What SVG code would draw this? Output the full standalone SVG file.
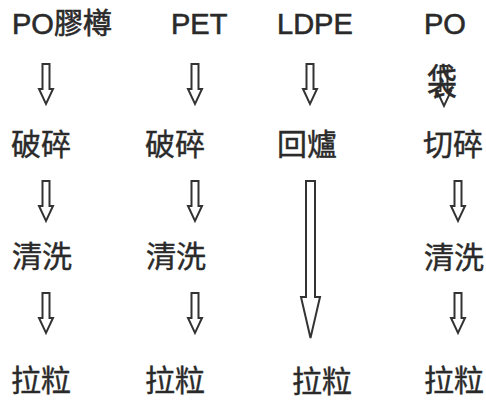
<svg xmlns="http://www.w3.org/2000/svg" width="486" height="401" viewBox="0 0 486 401">
<style>
.lat{font-family:"Liberation Sans","Noto Sans CJK TC",sans-serif;font-size:29px;fill:#2a2a2a;stroke:#2a2a2a;stroke-width:0.6}
.cjk{font-family:"Noto Sans CJK TC","Noto Sans CJK JP",serif;font-size:30px;fill:#2a2a2a;stroke:#2a2a2a;stroke-width:0.4}
.arr{fill:#fff;stroke:#333;stroke-width:2;stroke-linejoin:miter}
</style>
<defs>
<path id="a" class="arr" d="M-3.5,0 H3.5 V25 H7 L0,40 L-7,25 H-3.5 Z"/>
</defs>
<rect width="486" height="401" fill="#fff"/>
<g id="connectors">
<use href="#a" x="46" y="64"/>
<use href="#a" x="46" y="181"/>
<use href="#a" x="46" y="293"/>
<use href="#a" x="195" y="64"/>
<use href="#a" x="195" y="181"/>
<use href="#a" x="195" y="293"/>
<use href="#a" x="310" y="64"/>
<path class="arr" d="M306,181 H315 V297 H320 L310.5,338 L301,297 H306 Z"/>
<use href="#a" x="444" y="66"/>
<use href="#a" x="458" y="181"/>
<use href="#a" x="458" y="293"/>
</g>
<g id="n1"><text class="lat" x="12" y="34">PO膠樽</text></g>
<g id="n2"><text class="lat" x="171" y="34">PET</text></g>
<g id="n3"><text class="lat" x="277" y="34">LDPE</text></g>
<g id="n4"><text class="lat" x="424" y="34">PO</text></g>
<g id="n4b"><text class="cjk" transform="translate(427,96) scale(1,1.25)" x="0" y="0" font-size="33">袋</text></g>
<g id="c1a"><text class="cjk" x="11" y="155">破碎</text></g>
<g id="c2a"><text class="cjk" x="145" y="155">破碎</text></g>
<g id="c3a"><text class="cjk" x="277" y="155">回爐</text></g>
<g id="c4a"><text class="cjk" x="423" y="155">切碎</text></g>
<g id="c1b"><text class="cjk" x="12" y="267">清洗</text></g>
<g id="c2b"><text class="cjk" x="146" y="267">清洗</text></g>
<g id="c4b"><text class="cjk" x="424" y="268">清洗</text></g>
<g id="c1c"><text class="cjk" x="11" y="391">拉粒</text></g>
<g id="c2c"><text class="cjk" x="145" y="391">拉粒</text></g>
<g id="c3c"><text class="cjk" x="292" y="392">拉粒</text></g>
<g id="c4c"><text class="cjk" x="424" y="391">拉粒</text></g>
</svg>
